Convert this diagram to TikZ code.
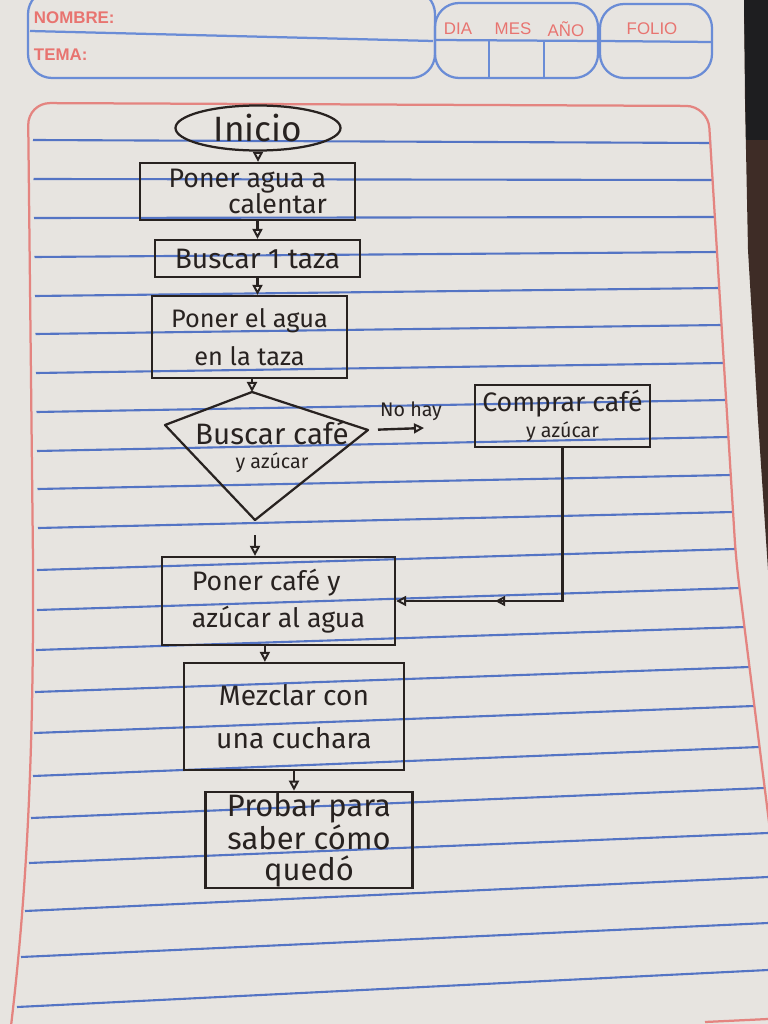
\documentclass[tikz,border=0pt]{standalone}
\usepackage{fontspec}
\setmainfont{Fira Sans}
\newfontfamily\hdrfont{Liberation Sans}
\usetikzlibrary{arrows.meta,shapes.geometric,decorations.markings}
\definecolor{paper}{RGB}{231,228,224}
\definecolor{rulecol}{RGB}{84,116,196}
\definecolor{hdrblue}{RGB}{106,140,214}
\definecolor{margcol}{RGB}{228,132,128}
\definecolor{hdrred}{RGB}{232,116,112}
\definecolor{ink}{RGB}{40,34,32}
\definecolor{edgecol}{RGB}{62,44,38}
\definecolor{edgedark}{RGB}{30,30,32}
\begin{document}
\begin{tikzpicture}[x=0.025cm,y=-0.025cm,
  box/.style={draw=ink, line width=1.6pt, inner sep=1pt, align=center, text=ink},
  arr/.style={draw=ink, line width=1.7pt, -{Triangle[open, length=0.25cm, width=0.25cm, line width=1.4pt]}},
  inkline/.style={draw=ink, line width=1.6pt},
  rulel/.style={draw=rulecol, line width=1.5pt},
  hdrbox/.style={draw=hdrblue, line width=1.6pt, rounded corners=0.6cm},
  hdrtxt/.style={text=hdrred, font=\hdrfont\fontsize{12}{14}\selectfont},
  midarr/.style={postaction={decorate}, decoration={markings,
     mark=at position 0.69 with {\arrow[line width=1.4pt]{Triangle[open, length=0.25cm, width=0.25cm]}}}}
]
\useasboundingbox (0,0) rectangle (768,1024);
% paper
\fill[paper] (0,0) rectangle (768,1024);
\fill[edgecol] (744,0) -- (768,0) -- (768,570) -- (758,420) -- (748,250) -- (745,100) -- cycle;
\fill[edgedark] (744,0) -- (768,0) -- (768,140) -- (746,140) -- cycle;

% header
\draw[hdrbox] (28,-10) rectangle (435,78);
\draw[hdrblue, line width=1.6pt] (30,31) -- (433,41);
\draw[hdrbox] (435,3) rectangle (598,78);
\draw[hdrblue, line width=1.6pt] (436,40) -- (597,41);
\draw[hdrblue, line width=1.6pt] (489,41) -- (489,77) (544,41) -- (544,77);
\draw[hdrbox] (600,4) rectangle (712,78);
\draw[hdrblue, line width=1.6pt] (601,41) -- (711,42);
\node[hdrtxt, font=\hdrfont\bfseries\fontsize{12}{14}\selectfont, anchor=west] (hnom) at (29,18) {NOMBRE:};
\node[hdrtxt, font=\hdrfont\bfseries\fontsize{12}{14}\selectfont, anchor=west] (htema) at (29,55) {TEMA:};
\node[hdrtxt] (hdia) at (458,29) {DIA};
\node[hdrtxt] (hmes) at (513,29) {MES};
\node[hdrtxt] (hano) at (566,29) {AÑO};
\node[hdrtxt] (hfolio) at (652,29) {FOLIO};

% ruled lines
\foreach \xl/\yl/\xr/\yr in {33/140/711/143, 33.5/179/713/180, 34/218/715/217, 34.5/257/717.5/252,
  35/296/719.5/288, 35.5/334/722/325, 36/373/724/363, 36.5/412/726.5/400, 37/451/728.5/437,
  37.5/489/731/475, 38/528/733/512, 37/570/735/549, 37/610/739.5/588, 36/650/744.5/627,
  35/692/749.5/667, 34/733/754/706, 33/776/759/747, 31/818/764/788, 29/863/768/833,
  25/911/768/877, 21/957/768/923, 17/1007/768/970}
  {\draw[rulel] (\xl,\yl) -- (\xr,\yr);}

% red margin
\draw[margcol, line width=1.6pt, rounded corners=0.55cm] (33,560) -- (28,103) -- (708,106) -- (736,560) -- (770,830);
\draw[margcol, line width=1.6pt] (33,560) .. controls (34,760) and (26,900) .. (11,1026);
\draw[margcol, line width=1.6pt] (705,1022) -- (768,1019);

% flowchart
\node[box, ellipse, minimum width=4.125cm, minimum height=1.125cm, inner sep=0pt, font=\fontsize{25}{26}\selectfont] (ini) at (258,128) {Inicio};
\node[box, minimum width=5.375cm, minimum height=1.425cm, font=\fontsize{19}{19}\selectfont] (a1) at (247.5,191.5) {Poner agua a\\\hspace*{1.5cm}calentar};
\node[box, minimum width=5.125cm, minimum height=0.925cm, font=\fontsize{20}{22}\selectfont] (a2) at (257.5,258.5) {Buscar 1 taza};
\node[box, minimum width=4.875cm, minimum height=2.05cm, font=\fontsize{18}{27}\selectfont] (a3) at (249.5,337) {Poner el agua\\en la taza};

\coordinate (dT) at (252,392);
\coordinate (dR) at (368,430);
\coordinate (dB) at (255,520);
\coordinate (dL) at (165,425);
\draw[inkline, line join=round] (dT) -- (dR) -- (dB) -- (dL) -- cycle;
\node[text=ink, align=center, inner sep=0pt, font=\fontsize{21}{17}\selectfont] (d) at (272,447) {Buscar café\\{\fontsize{14}{16}\selectfont y azúcar}};

\node[box, minimum width=4.375cm, minimum height=1.55cm, font=\fontsize{19}{19}\selectfont] (c) at (562.5,416) {Comprar café\\{\fontsize{14}{16}\selectfont y azúcar}};
\coordinate (nhE) at (424,428);
\node[text=ink, font=\fontsize{14}{16}\selectfont, inner sep=0pt] (nh) at (411,411) {No hay};

\node[box, minimum width=5.825cm, minimum height=2.2cm, align=left, font=\fontsize{19}{26}\selectfont] (p1) at (278.5,601) {Poner café y\\azúcar al agua};
\node[box, minimum width=5.5cm, minimum height=2.675cm, font=\fontsize{20}{31}\selectfont] (m) at (294,716.5) {Mezclar con\\una cuchara};
\node[box, minimum width=5.175cm, minimum height=2.4cm, font=\fontsize{22}{22}\selectfont] (pr) at (309,840) {Probar para\\saber cómo\\quedó};

% connectors
\draw[arr] (ini.south) -- (ini.south |- a1.north);
\draw[arr] (a2.north |- a1.south) -- (a2.north);
\draw[arr] (a2.south) -- (a2.south |- a3.north);
\draw[arr] (a3.south -| dT) -- (dT);
\draw[arr, shorten <=0.25cm] (dR) -- (nhE);
\draw[arr, shorten <=0.375cm] (dB) -- (dB |- p1.north);
\draw[midarr, arr] (c.south) |- (p1.east);
\draw[arr] ([xshift=-0.34cm]p1.south) -- ([xshift=-0.34cm]p1.south |- m.north);
\draw[arr] (m.south) -- (m.south |- pr.north);
\end{tikzpicture}
\end{document}
